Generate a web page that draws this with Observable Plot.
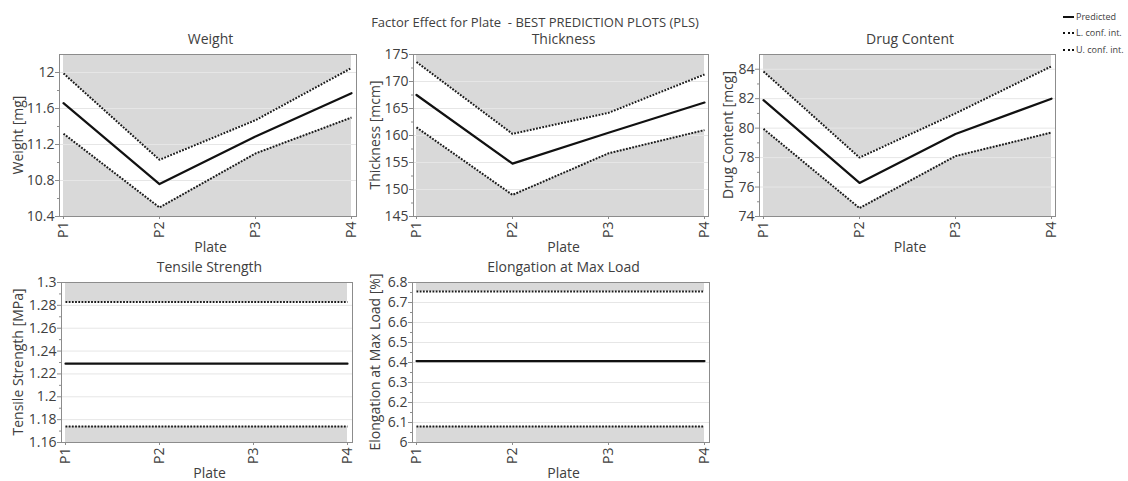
<!DOCTYPE html>
<html>
<head>
<meta charset="utf-8">
<script src="https://cdn.jsdelivr.net/npm/d3@7"></script>
<script src="https://cdn.jsdelivr.net/npm/@observablehq/plot@0.6"></script>
<style>
  html, body { margin: 0; padding: 0; background: #fff; }
  #root { position: relative; width: 1128px; height: 481px; overflow: hidden; background: #fff;
          font-family: "Segoe UI", "Open Sans", "Noto Sans", sans-serif; color: #404040; }
  .txt { position: absolute; white-space: nowrap; transform: translate(-50%, -50%); line-height: 1.15; }
  .panel { position: absolute; }
  .panel svg { overflow: visible; }
</style>
</head>
<body>
<div id="root"></div>
<script>
// ---------- data ----------
const plates = ["P1", "P2", "P3", "P4"];

const weightPred = [11.66, 10.76, 11.29, 11.77];
const weightLow  = [11.32, 10.50, 11.10, 11.50];
const weightUp   = [11.99, 11.03, 11.47, 12.05];
const weightTicks = [10.4, 10.8, 11.2, 11.6, 12];

const thickPred = [167.5, 154.8, 160.5, 166.1];
const thickLow  = [161.5, 149.0, 156.7, 161.0];
const thickUp   = [173.6, 160.3, 164.2, 171.3];
const thickTicks = [145, 150, 155, 160, 165, 170, 175];

const drugPred = [81.9, 76.28, 79.6, 82.0];
const drugLow  = [79.95, 74.57, 78.1, 79.7];
const drugUp   = [83.85, 78.0, 81.0, 84.2];
const drugTicks = [74, 76, 78, 80, 82, 84];

const tensilePred = [1.229, 1.229, 1.229, 1.229];
const tensileLow  = [1.174, 1.174, 1.174, 1.174];
const tensileUp   = [1.283, 1.283, 1.283, 1.283];
const tensileTicks = [1.16, 1.18, 1.2, 1.22, 1.24, 1.26, 1.28, 1.3];

const elongPred = [6.407, 6.407, 6.407, 6.407];
const elongLow  = [6.08, 6.08, 6.08, 6.08];
const elongUp   = [6.755, 6.755, 6.755, 6.755];
const elongTicks = [6, 6.1, 6.2, 6.3, 6.4, 6.5, 6.6, 6.7, 6.8];

const legendLabels = ["Predicted", "L. conf. int.", "U. conf. int."];

// ---------- layout ----------
const root = document.getElementById("root");
function addText(str, x, y, size, rotate, extra) {
  const d = document.createElement("div");
  d.className = "txt";
  d.textContent = str;
  d.style.left = x + "px";
  d.style.top = y + "px";
  d.style.fontSize = size + "px";
  if (rotate) d.style.transform = "translate(-50%, -50%) rotate(" + rotate + "deg)";
  if (extra) Object.assign(d.style, extra);
  root.appendChild(d);
  return d;
}

const mL = 45, mR = 8, mT = 12, mB = 34;
const DOT = "1.8,1.4";

function panel(cfg) {
  const {title, ylabel, pred, low, up, ticks, domain, fx0, fy0, fx1, fy1, ylabX} = cfg;
  const rows = plates.map((p, i) => ({plate: p, pred: pred[i], low: low[i], up: up[i]}));
  const minor = ticks.slice(0, -1).map((t, i) => (t + ticks[i + 1]) / 2);
  const fmt = d => String(d);
  const W = fx1 - fx0 + mL + mR, H = fy1 - fy0 + mT + mB;
  const chart = Plot.plot({
    width: W, height: H,
    marginLeft: mL, marginRight: mR, marginTop: mT, marginBottom: mB,
    style: {fontFamily: "'Segoe UI', 'Open Sans', 'Noto Sans', sans-serif", fontSize: "14px", color: "#404040", background: "transparent", overflow: "visible"},
    x: {type: "point", domain: plates, padding: 0, insetLeft: 3, insetRight: 4, axis: null},
    y: {domain: domain, axis: null},
    marks: [
      Plot.areaY(rows, {x: "plate", y1: domain[0], y2: domain[1], fill: "#d9d9d9", curve: "linear"}),
      Plot.areaY(rows, {x: "plate", y1: "low", y2: "up", fill: "#ffffff", curve: "linear"}),
      Plot.ruleY(ticks.filter(t => t > domain[0] && t < domain[1]), {stroke: "#e6e6e6", strokeWidth: 1}),
      Plot.lineY(rows, {x: "plate", y: "up", stroke: "#1a1a1a", strokeWidth: 2, strokeDasharray: DOT, strokeLinecap: "butt", strokeLinejoin: "miter"}),
      Plot.lineY(rows, {x: "plate", y: "low", stroke: "#1a1a1a", strokeWidth: 2, strokeDasharray: DOT, strokeLinecap: "butt", strokeLinejoin: "miter"}),
      Plot.lineY(rows, {x: "plate", y: "pred", stroke: "#111", strokeWidth: 2.2}),
      Plot.frame({stroke: "#8c8c8c", strokeWidth: 1}),
      Plot.axisY(ticks, {tickSize: 4, tickPadding: 1, tickFormat: fmt, label: null, stroke: "#8c8c8c", fill: "#404040"}),
      Plot.axisY(minor, {tickSize: 2, tickFormat: () => "", label: null, stroke: "#8c8c8c"}),
      Plot.axisX(plates, {tickRotate: -90, tickSize: 3, tickPadding: 2, label: null, stroke: "#8c8c8c", fill: "#404040"})
    ]
  });
  const holder = document.createElement("div");
  holder.className = "panel";
  holder.style.left = (fx0 - mL) + "px";
  holder.style.top = (fy0 - mT) + "px";
  holder.appendChild(chart);
  root.appendChild(holder);

  const cx = (fx0 + fx1) / 2 + 3;
  addText(title, cx, fy0 - 15, 14);
  addText("Plate", cx, fy1 + 31, 14);
  addText(ylabel, ylabX, (fy0 + fy1) / 2, 14, -90);
}

panel({title: "Weight", ylabel: "Weight [mg]", pred: weightPred, low: weightLow, up: weightUp,
       ticks: weightTicks, domain: [10.4, 12.2], fx0: 59, fy0: 54, fx1: 356, fy1: 216, ylabX: 18});
panel({title: "Thickness", ylabel: "Thickness [mcm]", pred: thickPred, low: thickLow, up: thickUp,
       ticks: thickTicks, domain: [145, 175], fx0: 413, fy0: 54, fx1: 708, fy1: 216, ylabX: 375});
panel({title: "Drug Content", ylabel: "Drug Content [mcg]", pred: drugPred, low: drugLow, up: drugUp,
       ticks: drugTicks, domain: [74, 85], fx0: 759, fy0: 54, fx1: 1055, fy1: 216, ylabX: 728});
panel({title: "Tensile Strength", ylabel: "Tensile Strength [MPa]", pred: tensilePred, low: tensileLow, up: tensileUp,
       ticks: tensileTicks, domain: [1.16, 1.3], fx0: 61, fy0: 282, fx1: 352, fy1: 442, ylabX: 18});
panel({title: "Elongation at Max Load", ylabel: "Elongation at Max Load [%]", pred: elongPred, low: elongLow, up: elongUp,
       ticks: elongTicks, domain: [6, 6.8], fx0: 412, fy0: 282, fx1: 709, fy1: 442, ylabX: 375});

// main title
addText("Factor Effect for Plate  - BEST PREDICTION PLOTS (PLS)", 535, 22, 13, 0, {whiteSpace: "pre"});

// legend
const legendY = [17, 33, 50];
legendLabels.forEach((lab, i) => {
  const s = document.createElement("div");
  s.style.position = "absolute";
  s.style.left = "1063px";
  s.style.top = (legendY[i] - 1) + "px";
  s.style.width = "11px";
  s.style.height = "0px";
  s.style.borderTop = i === 0 ? "2px solid #111" : "2px dotted #111";
  root.appendChild(s);
  const t = document.createElement("div");
  t.className = "txt";
  t.textContent = lab;
  t.style.left = "1076px";
  t.style.top = legendY[i] + "px";
  t.style.fontSize = "9px";
  t.style.transform = "translate(0, -50%)";
  root.appendChild(t);
});
</script>
</body>
</html>
